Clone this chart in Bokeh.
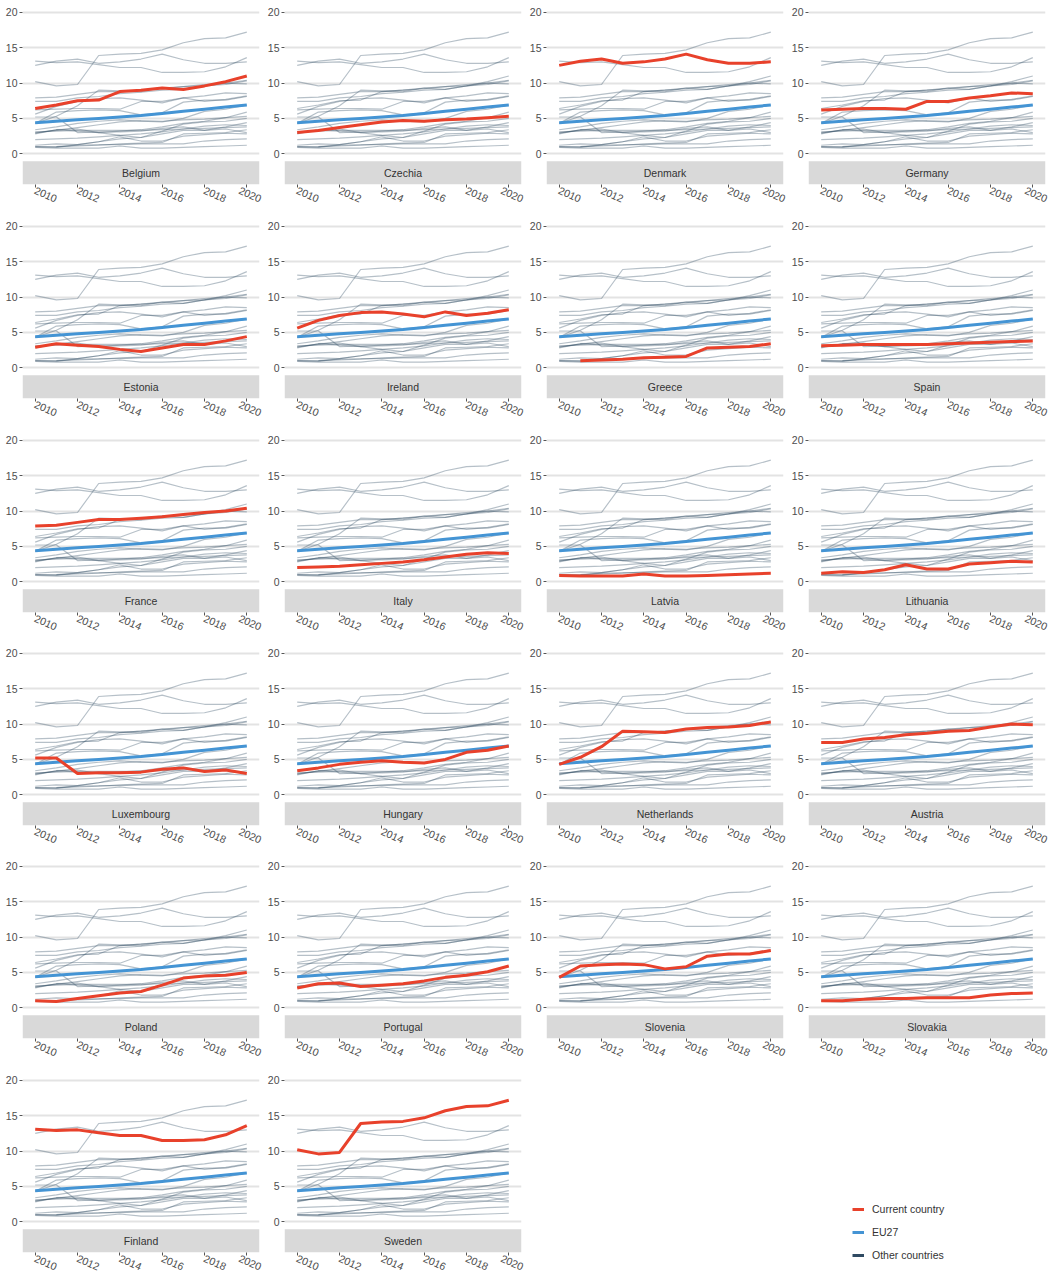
from bokeh.plotting import figure
from bokeh.layouts import gridplot, row, column
from bokeh.models import FixedTicker, Range1d, Legend, LegendItem, ColumnDataSource, Spacer
from bokeh.embed import file_html
from bokeh.resources import INLINE
from bokeh.core.properties import value

NAN = float("nan")
years = [2010, 2011, 2012, 2013, 2014, 2015, 2016, 2017, 2018, 2019, 2020]
x_ticks = [2010, 2012, 2014, 2016, 2018, 2020]
y_ticks = [0, 5, 10, 15, 20]

countries = ["Belgium", "Czechia", "Denmark", "Germany", "Estonia", "Ireland",
             "Greece", "Spain", "France", "Italy", "Latvia", "Lithuania",
             "Luxembourg", "Hungary", "Netherlands", "Austria", "Poland",
             "Portugal", "Slovenia", "Slovakia", "Finland", "Sweden"]

belgium = [6.4, 6.9, 7.5, 7.6, 8.8, 9.0, 9.3, 9.1, 9.6, 10.2, 11.0]
czechia = [3.0, 3.3, 3.7, 4.1, 4.5, 4.7, 4.6, 4.8, 4.9, 5.1, 5.3]
denmark = [12.5, 13.1, 13.4, 12.8, 13.0, 13.4, 14.1, 13.3, 12.8, 12.8, 13.0]
germany = [6.2, 6.3, 6.4, 6.4, 6.3, 7.4, 7.4, 7.9, 8.2, 8.6, 8.5]
estonia = [2.9, 3.4, 3.2, 3.0, 2.6, 2.3, 2.8, 3.3, 3.3, 3.8, 4.4]
ireland = [5.6, 6.7, 7.4, 7.8, 7.9, 7.6, 7.2, 7.9, 7.4, 7.7, 8.2]
greece = [NAN, 1.0, 1.1, 1.2, 1.4, 1.5, 1.6, 2.8, 2.9, 3.0, 3.4]
spain = [3.1, 3.2, 3.3, 3.3, 3.3, 3.3, 3.4, 3.5, 3.6, 3.7, 3.8]
france = [7.9, 8.0, 8.4, 8.8, 8.8, 9.0, 9.2, 9.5, 9.8, 10.0, 10.4]
italy = [2.0, 2.1, 2.2, 2.4, 2.6, 2.8, 3.1, 3.5, 3.9, 4.1, 4.0]
latvia = [0.9, 0.8, 0.8, 0.8, 1.1, 0.8, 0.8, 0.9, 1.0, 1.1, 1.2]
lithuania = [1.2, 1.4, 1.3, 1.7, 2.4, 1.8, 1.8, 2.5, 2.7, 2.9, 2.8]
luxembourg = [5.2, 5.2, 3.0, 3.1, 3.1, 3.2, 3.6, 3.8, 3.3, 3.5, 3.0]
hungary = [3.4, 3.8, 4.3, 4.6, 4.8, 4.6, 4.5, 5.0, 6.0, 6.3, 6.9]
netherlands = [4.3, 5.3, 6.8, 9.0, 8.9, 8.8, 9.3, 9.5, 9.6, 9.8, 10.3]
austria = [7.4, 7.4, 7.9, 8.1, 8.5, 8.7, 9.0, 9.1, 9.6, 10.0, 9.9]
poland = [1.0, 0.9, 1.3, 1.7, 2.1, 2.3, 3.2, 4.2, 4.5, 4.6, 5.0]
portugal = [2.8, 3.4, 3.5, 3.0, 3.2, 3.4, 3.8, 4.3, 4.6, 5.1, 5.9]
slovenia = [4.3, 5.9, 6.1, 6.2, 6.1, 5.5, 5.8, 7.3, 7.6, 7.6, 8.1]
slovakia = [1.0, 1.0, 1.2, 1.3, 1.3, 1.4, 1.4, 1.4, 1.8, 2.0, 2.1]
finland = [13.1, 12.9, 13.0, 12.6, 12.2, 12.2, 11.5, 11.5, 11.6, 12.3, 13.6]
sweden = [10.2, 9.6, 9.8, 13.9, 14.1, 14.2, 14.7, 15.7, 16.3, 16.4, 17.2]
eu27 = [4.4, 4.6, 4.8, 5.0, 5.2, 5.4, 5.7, 6.0, 6.3, 6.6, 6.9]

series_list = [belgium, czechia, denmark, germany, estonia, ireland, greece, spain,
               france, italy, latvia, lithuania, luxembourg, hungary, netherlands,
               austria, poland, portugal, slovenia, slovakia, finland, sweden]
series = dict(zip(countries, series_list))

legend_labels = ["Current country", "EU27", "Other countries"]

RED = "#e8412b"
BLUE = "#4494d4"
OTHER = "#2f4a62"
FONT = "'Liberation Sans Narrow', 'Liberation Sans', sans-serif"
X0, X1 = 2009.4, 2020.6
Y0, Y1 = -4.35, 20.55
FRAME_H = 176
TOP = 8
PANEL_W = 262
ROW_H = [214, 214, 213, 213, 214, 209]


def style_axes(p):
    p.outline_line_color = None
    p.xgrid.visible = False
    p.ygrid.ticker = FixedTicker(ticks=y_ticks)
    p.ygrid.grid_line_color = "#e3e3e3"
    p.ygrid.grid_line_width = 2
    p.xaxis.ticker = FixedTicker(ticks=x_ticks)
    p.yaxis.ticker = FixedTicker(ticks=y_ticks)
    p.xaxis.major_label_orientation = -0.42
    for ax in (p.xaxis, p.yaxis):
        ax.axis_line_color = None
        ax.major_tick_line_color = "#555555"
        ax.major_tick_out = 3
        ax.major_tick_in = 0
        ax.minor_tick_line_color = None
        ax.major_label_text_font = FONT
        ax.major_label_text_font_size = "10.5px"
        ax.major_label_text_color = "#4d4d4d"
        ax.major_label_standoff = 2


def panel(name, height):
    p = figure(width=PANEL_W, height=height,
               x_range=Range1d(X0, X1), y_range=Range1d(Y0, Y1),
               output_backend="svg", toolbar_location=None,
               min_border_left=22, min_border_right=3, min_border_top=TOP,
               min_border_bottom=height - FRAME_H - TOP)
    style_axes(p)
    # strip
    p.quad(left=[X0], right=[X1], bottom=[Y0], top=[-1.05],
           fill_color="#d9d9d9", line_color=None)
    src = ColumnDataSource(dict(x=[(X0 + X1) / 2], y=[-2.7], t=[name]))
    p.text(x="x", y="y", text="t", source=src, text_align="center",
           text_baseline="middle", text_font=value(FONT),
           text_font_size="10.5px", text_color="#333333")
    for other in countries:
        if other == name:
            continue
        p.line(years, series[other], color=OTHER, alpha=0.35, line_width=1.2)
    p.line(years, eu27, color=BLUE, line_width=3)
    p.line(years, series[name], color=RED, line_width=3)
    return p


panels = [panel(c, ROW_H[i // 4]) for i, c in enumerate(countries)]
top_rows = [panels[r * 4:(r + 1) * 4] for r in range(5)]
top = gridplot(top_rows, toolbar_location=None)
bottom_left = gridplot([panels[20:22]], toolbar_location=None)

# legend panel (no axes), outside the aligned grid
lg = figure(width=PANEL_W, height=ROW_H[5], x_range=Range1d(0, 1), y_range=Range1d(0, 1),
            output_backend="svg", toolbar_location=None, min_border=0,
            x_axis_location=None, y_axis_location=None)
lg.grid.visible = False
lg.outline_line_color = None
r1 = lg.line(x=[5, 6], y=[5, 6], color=RED, line_width=3)
r2 = lg.line(x=[5, 6], y=[5, 6], color=BLUE, line_width=3)
r3 = lg.line(x=[5, 6], y=[5, 6], color=OTHER, line_width=3)
legend = Legend(items=[LegendItem(label=legend_labels[0], renderers=[r1]),
                       LegendItem(label=legend_labels[1], renderers=[r2]),
                       LegendItem(label=legend_labels[2], renderers=[r3])],
                location=(66, 12), padding=0, margin=0, spacing=3,
                glyph_width=12, glyph_height=20, label_height=20,
                label_standoff=8, border_line_color=None,
                background_fill_alpha=0, label_text_font=FONT,
                label_text_font_size="10.5px", label_text_color="#333333")
lg.add_layout(legend, "center")

bottom = row(bottom_left, Spacer(width=PANEL_W, height=ROW_H[5]), lg)
layout = column(top, bottom)

open("out.html", "w").write(file_html(layout, INLINE))
